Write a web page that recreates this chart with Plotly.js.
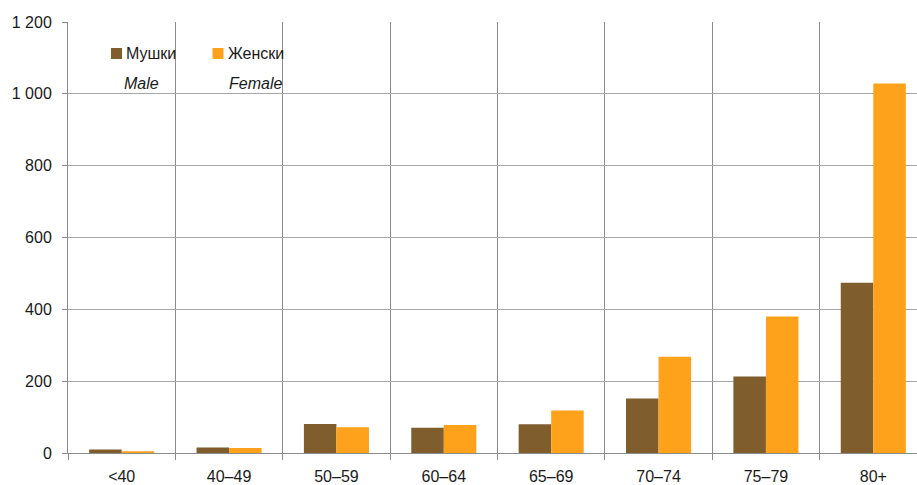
<!DOCTYPE html>
<html>
<head>
<meta charset="utf-8">
<script src="https://cdn.plot.ly/plotly-3.0.1.min.js"></script>
<style>html,body{margin:0;padding:0;background:#fff;}#chart{width:917px;height:485px;}</style>
</head>
<body>
<div id="chart"></div>
<script>
const categories = ["<40", "40–49", "50–59", "60–64", "65–69", "70–74", "75–79", "80+"];
const maleValues = [10, 15, 81, 70, 80, 152, 213, 474];
const femaleValues = [5, 14, 72, 78, 118, 268, 380, 1029];
const seriesNames = ["Мушки", "Женски"];
const seriesNamesEn = ["Male", "Female"];
const yTicks = [0, 200, 400, 600, 800, 1000, 1200];

const maleColor = "#7f5d2c";
const femaleColor = "#ffa21b";
const fontFamily = "'Liberation Sans', Arial, sans-serif";
const fontSize = 16;

const W = 917, H = 485;
const M = {l: 68, r: 0, t: 22, b: 32};
const pw = W - M.l - M.r, ph = H - M.t - M.b;
const px = x => (x - M.l) / pw;
const py = y => (H - M.b - y) / ph;

const traces = [
  {type: "bar", name: seriesNames[0], x: categories, y: maleValues, marker: {color: maleColor}, showlegend: false},
  {type: "bar", name: seriesNames[1], x: categories, y: femaleValues, marker: {color: femaleColor}, showlegend: false}
];

const legendSquares = [
  {x0: 111, x1: 122, y0: 48, y1: 59, color: maleColor},
  {x0: 212.5, x1: 223.5, y0: 48, y1: 59, color: femaleColor}
];
const shapes = legendSquares.map(s => ({
  type: "rect", xref: "paper", yref: "paper",
  x0: px(s.x0), x1: px(s.x1), y0: py(s.y1), y1: py(s.y0),
  fillcolor: s.color, line: {width: 0}
}));

const annotations = [
  {text: seriesNames[0], x: px(124), y: py(53.5), italic: false},
  {text: seriesNames[1], x: px(226), y: py(53.5), italic: false},
  {text: seriesNamesEn[0], x: px(122), y: py(83), italic: true},
  {text: seriesNamesEn[1], x: px(227), y: py(83), italic: true}
].map(a => ({
  text: a.italic ? "<i>" + a.text + "</i>" : a.text,
  xref: "paper", yref: "paper", x: a.x, y: a.y,
  xanchor: "left", yanchor: "middle", showarrow: false,
  font: {family: fontFamily, size: fontSize, color: "#1a1a1a"}
}));

const layout = {
  width: W, height: H,
  margin: M,
  paper_bgcolor: "#fff", plot_bgcolor: "#fff",
  separators: ", ",
  font: {family: fontFamily, size: fontSize, color: "#1a1a1a"},
  barmode: "group", bargap: 0.394, bargroupgap: 0,
  xaxis: {
    type: "category", range: [-0.5, 7.407],
    tickson: "boundaries", ticks: "outside", ticklen: 6, tickcolor: "#8c8c8c", tickwidth: 1,
    showgrid: true, gridcolor: "#8c8c8c", gridwidth: 1,
    showline: true, linecolor: "#8c8c8c", linewidth: 1,
    ticklabelstandoff: 9,
    tickfont: {family: fontFamily, size: fontSize, color: "#1a1a1a"},
    fixedrange: true
  },
  yaxis: {
    range: [0, 1200], tickvals: yTicks, separatethousands: true, tickformat: ",d",
    ticks: "outside", ticklen: 5, tickcolor: "#8c8c8c", tickwidth: 1,
    showgrid: true, gridcolor: "#a6a6a6", gridwidth: 1,
    showline: true, linecolor: "#8c8c8c", linewidth: 1,
    zeroline: false,
    ticklabelstandoff: 7,
    tickfont: {family: fontFamily, size: fontSize, color: "#1a1a1a"},
    fixedrange: true
  },
  shapes: shapes,
  annotations: annotations,
  showlegend: false
};

Plotly.newPlot("chart", traces, layout, {displayModeBar: false, staticPlot: true});
</script>
</body>
</html>
